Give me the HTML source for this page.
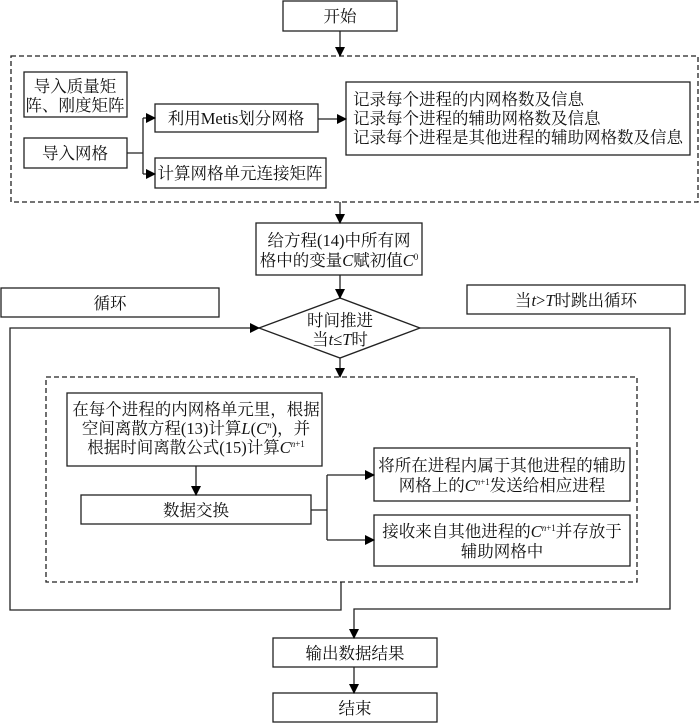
<!DOCTYPE html>
<html><head><meta charset="utf-8"><style>
html,body{margin:0;padding:0;background:#fff;}
svg text{font-family:"Liberation Serif","Noto Serif CJK SC",serif;font-size:16.5px;fill:#111;}
</style></head><body>
<svg width="700" height="723" viewBox="0 0 700 723" xmlns="http://www.w3.org/2000/svg">
<defs><marker id="a" markerWidth="10" markerHeight="10" refX="9" refY="5" orient="auto" markerUnits="userSpaceOnUse"><path d="M0,0 L10,5 L0,10 z" fill="#000"/></marker></defs>
<g fill="none" stroke="#222" stroke-width="1.3">
<rect x="283" y="1" width="114" height="30" fill="#fff"/>
<rect x="11" y="56" width="687" height="146" stroke-dasharray="5,3"/>
<rect x="24" y="72" width="103" height="45"/>
<rect x="24" y="138" width="103" height="30"/>
<rect x="155" y="104" width="163" height="28"/>
<rect x="155" y="158" width="171" height="30"/>
<rect x="346" y="82" width="344" height="73"/>
<rect x="256" y="223" width="166" height="52"/>
<rect x="1" y="288" width="218" height="29"/>
<rect x="467" y="285" width="218" height="29"/>
<polygon points="259,328 340,298 420,328 340,358"/>
<rect x="46" y="377" width="591" height="205" stroke-dasharray="5,3"/>
<rect x="67" y="393" width="255" height="73"/>
<rect x="81" y="495" width="230" height="29"/>
<rect x="374" y="448" width="256" height="53"/>
<rect x="374" y="515" width="256" height="51"/>
<rect x="273" y="638" width="164" height="29"/>
<rect x="273" y="693" width="164" height="29"/>
<path d="M340,31 V56" marker-end="url(#a)"/>
<path d="M127,153 H143 M143,118 V174"/>
<path d="M143,118 H155" marker-end="url(#a)"/>
<path d="M143,174 H155" marker-end="url(#a)"/>
<path d="M318,119 H346" marker-end="url(#a)"/>
<path d="M340,202 V223" marker-end="url(#a)"/>
<path d="M340,275 V298" marker-end="url(#a)"/>
<path d="M340,358 V377" marker-end="url(#a)"/>
<path d="M341,582 V610 H10 V328 H259" marker-end="url(#a)"/>
<path d="M420,328 H670 V609 H354 V638" marker-end="url(#a)"/>
<path d="M196,466 V495" marker-end="url(#a)"/>
<path d="M311,510 H327 M327,475 V540"/>
<path d="M327,475 H374" marker-end="url(#a)"/>
<path d="M327,540 H374" marker-end="url(#a)"/>
<path d="M354,667 V693" marker-end="url(#a)"/>
</g>
<g text-anchor="middle">
<text x="75" y="92">导入质量矩</text>
<text x="75" y="111">阵、刚度矩阵</text>
<text x="340" y="22">开始</text>
<text x="75" y="159">导入网格</text>
<text x="236" y="124">利用Metis划分网格</text>
<text x="240" y="179">计算网格单元连接矩阵</text>
<text x="339" y="246">给方程(14)中所有网</text>
<text x="339" y="266">格中的变量<tspan font-style="italic">C</tspan>赋初值<tspan font-style="italic">C</tspan><tspan font-size="9" dy="-6">0</tspan></text>
<text x="110" y="309">循环</text>
<text x="576" y="306">当<tspan font-style="italic">t</tspan>&gt;<tspan font-style="italic">T</tspan>时跳出循环</text>
<text x="340" y="326">时间推进</text>
<text x="340" y="345">当<tspan font-style="italic">t</tspan>≤<tspan font-style="italic">T</tspan>时</text>
<text x="196" y="415">在每个进程的内网格单元里，根据</text>
<text x="196" y="434">空间离散方程(13)计算<tspan font-style="italic">L</tspan>(<tspan font-style="italic">C</tspan><tspan font-size="9" dy="-6" font-style="italic">n</tspan><tspan dy="6">)，并</tspan></text>
<text x="196" y="453">根据时间离散公式(15)计算<tspan font-style="italic">C</tspan><tspan font-size="9" dy="-6"><tspan font-style="italic">n</tspan>+1</tspan></text>
<text x="196" y="516">数据交换</text>
<text x="502" y="471">将所在进程内属于其他进程的辅助</text>
<text x="502" y="491">网格上的<tspan font-style="italic">C</tspan><tspan font-size="9" dy="-6"><tspan font-style="italic">n</tspan>+1</tspan><tspan dy="6">发送给相应进程</tspan></text>
<text x="502" y="537">接收来自其他进程的<tspan font-style="italic">C</tspan><tspan font-size="9" dy="-6"><tspan font-style="italic">n</tspan>+1</tspan><tspan dy="6">并存放于</tspan></text>
<text x="502" y="557">辅助网格中</text>
<text x="355" y="659">输出数据结果</text>
<text x="355" y="714">结束</text>
</g>
<g>
<text x="353" y="105">记录每个进程的内网格数及信息</text>
<text x="353" y="124">记录每个进程的辅助网格数及信息</text>
<text x="353" y="143">记录每个进程是其他进程的辅助网格数及信息</text>
</g>
</svg>
</body></html>
